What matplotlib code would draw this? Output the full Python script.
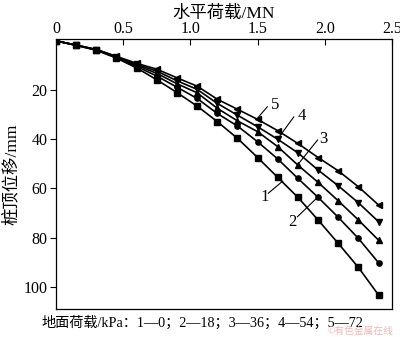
import matplotlib
matplotlib.use("Agg")
import matplotlib.pyplot as plt

plt.rcParams['font.family'] = ['Liberation Serif', 'Noto Sans CJK SC']

# 水平荷载 (MN)
load = [0, 0.15, 0.3, 0.45, 0.6, 0.75, 0.9, 1.05, 1.2, 1.35,
        1.5, 1.65, 1.8, 1.95, 2.1, 2.25, 2.4]

# 桩顶位移 (mm)，地面荷载 1—0，2—18，3—36，4—54，5—72 kPa
disp1 = [0, 1.8, 3.8, 7.0, 11.0, 15.8, 21.0, 26.5, 32.8, 39.6,
         47.4, 55.5, 63.6, 72.8, 82.3, 92.1, 103.3]
disp2 = [0, 1.8, 3.7, 6.8, 10.4, 14.3, 18.8, 23.4, 29.5, 34.6,
         41.0, 48.0, 55.9, 63.6, 71.7, 80.3, 90.2]
disp3 = [0, 1.7, 3.6, 6.6, 9.9, 13.2, 17.4, 21.1, 27.4, 32.5,
         36.9, 43.0, 50.5, 57.5, 65.0, 72.8, 81.0]
disp4 = [0, 1.7, 3.5, 6.4, 9.5, 12.3, 16.2, 19.7, 25.4, 30.2,
         34.9, 40.0, 45.5, 52.5, 58.9, 65.8, 73.5]
disp5 = [0, 1.7, 3.5, 6.3, 9.1, 11.5, 15.0, 18.4, 23.7, 27.8,
         31.9, 36.5, 41.7, 47.4, 52.8, 59.3, 66.7]

series = [disp1, disp2, disp3, disp4, disp5]
markers = ['s', 'o', '^', 'v', '<']

# 曲线编号及引线: (文字位置, 引线起点, 引线终点)
tags = ['1', '2', '3', '4', '5']
tag_text = [(1.52, 63.5), (1.73, 73.5), (1.96, 39.8), (1.80, 30.5), (1.60, 26.0)]
lead_a = [(1.58, 61.9), (1.796, 71.5), (1.796, 50.5), (1.649, 39.9), (1.493, 31.8)]
lead_b = [(1.687, 57.0), (1.946, 63.6), (1.946, 40.3), (1.769, 30.9), (1.572, 26.8)]

fig = plt.figure(figsize=(4, 3.37), dpi=100)
ax = fig.add_axes([0.14, 0.083, 0.84, 0.8])

for d, m in zip(series, markers):
    ax.plot(load, d, color='black', lw=1.2, marker=m, ms=3.8,
            mfc='black', mec='black')

for t, p, a, b in zip(tags, tag_text, lead_a, lead_b):
    ax.plot([a[0], b[0]], [a[1], b[1]], color='black', lw=0.8)
    ax.text(p[0], p[1], t, fontsize=12, ha='left', va='center')

ax.set_xlim(0, 2.5)
ax.set_ylim(109, -0.6)
ax.set_xticks([0, 0.5, 1.0, 1.5, 2.0, 2.5])
ax.set_xticklabels(['0', '0.5', '1.0', '1.5', '2.0', '2.5'])
ax.set_yticks([20, 40, 60, 80, 100])
ax.xaxis.tick_top()
ax.xaxis.set_label_position('top')
ax.tick_params(axis='x', direction='in', length=4, labelsize=11.5, pad=2)
ax.tick_params(axis='y', direction='out', length=4, labelsize=11.5, pad=2)
ax.set_xlabel('水平荷载/MN', fontsize=12.5, labelpad=2)
ax.set_ylabel('桩顶位移/mm', fontsize=12.5, labelpad=3)
for s in ax.spines.values():
    s.set_linewidth(0.9)

fig.text(0.105, 0.042, '地面荷载/kPa：1—0；2—18；3—36；4—54；5—72',
         fontsize=10.2, ha='left', va='center')
fig.text(0.985, 0.004, '©有色金属在线', fontsize=7, color='#f2b8b8',
         ha='right', va='bottom')

fig.savefig('out.png', dpi=100)
